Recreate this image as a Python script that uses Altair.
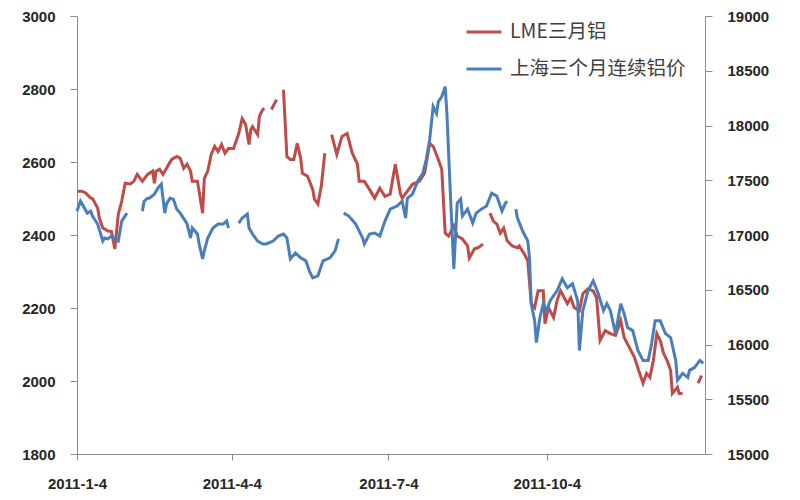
import altair as alt
import pandas as pd

# ---- data ----
lme_dates = ["2011-01-04","2011-01-07","2011-01-09","2011-01-12","2011-01-13","2011-01-16","2011-01-17","2011-01-19","2011-01-22","2011-01-24","2011-01-26","2011-01-28","2011-01-30","2011-02-01","2011-02-04","2011-02-06","2011-02-08","2011-02-11","2011-02-14","2011-02-17","2011-02-18","2011-02-19","2011-02-21","2011-02-23","2011-02-25","2011-02-28","2011-03-03","2011-03-05","2011-03-07","2011-03-09","2011-03-11","2011-03-12","2011-03-15","2011-03-18","2011-03-19","2011-03-21","2011-03-23","2011-03-25","2011-03-27","2011-03-29","2011-03-31","2011-04-02","2011-04-05","2011-04-08","2011-04-10","2011-04-12","2011-04-14","2011-04-15","2011-04-16","2011-04-19","2011-04-20","2011-04-22","2011-04-23","2011-04-25","2011-04-27","2011-04-30","2011-05-02","2011-05-04","2011-05-06","2011-05-08","2011-05-10","2011-05-12","2011-05-14","2011-05-15","2011-05-18","2011-05-21","2011-05-22","2011-05-24","2011-05-26","2011-05-28","2011-05-30","2011-06-01","2011-06-04","2011-06-07","2011-06-10","2011-06-13","2011-06-16","2011-06-17","2011-06-20","2011-06-23","2011-06-26","2011-06-29","2011-07-02","2011-07-05","2011-07-08","2011-07-11","2011-07-12","2011-07-15","2011-07-18","2011-07-22","2011-07-25","2011-07-28","2011-07-30","2011-08-02","2011-08-04","2011-08-06","2011-08-08","2011-08-11","2011-08-13","2011-08-16","2011-08-19","2011-08-20","2011-08-23","2011-08-25","2011-08-28","2011-08-30","2011-09-01","2011-09-03","2011-09-05","2011-09-07","2011-09-09","2011-09-11","2011-09-14","2011-09-17","2011-09-18","2011-09-21","2011-09-23","2011-09-25","2011-09-27","2011-09-29","2011-10-02","2011-10-03","2011-10-05","2011-10-08","2011-10-10","2011-10-12","2011-10-13","2011-10-16","2011-10-18","2011-10-20","2011-10-23","2011-10-25","2011-10-28","2011-10-31","2011-11-02","2011-11-04","2011-11-07","2011-11-10","2011-11-13","2011-11-16","2011-11-18","2011-11-21","2011-11-24","2011-11-27","2011-11-29","2011-12-01","2011-12-03","2011-12-05","2011-12-07","2011-12-09","2011-12-11","2011-12-13","2011-12-15","2011-12-16","2011-12-19","2011-12-20","2011-12-22","2011-12-26","2011-12-31","2012-01-02"]
lme_values = [2520,2520,2515,2501,2500,2474,2446,2419,2411,2410,2362,2457,2493,2542,2540,2547,2566,2547,2566,2575,2542,2575,2580,2566,2583,2607,2615,2610,2583,2594,2575,2547,2547,2460,2555,2575,2621,2643,2629,2648,2624,2637,2637,2678,2719,2703,2648,2689,2697,2675,2725,2744,2746,None,2744,2771,None,2798,2615,2607,2607,2651,2610,2569,2561,2525,2498,2485,2534,2624,None,2675,2621,2670,2678,2624,2594,2547,2547,2525,2501,2528,2506,2512,2594,2512,2501,2520,2539,2547,2569,2651,2643,2607,2580,2405,2397,2425,2397,2389,2370,2337,2362,2365,2375,None,2460,2438,2430,2405,2419,2384,2370,2365,2370,2348,2329,2212,2201,2247,2247,2157,2201,2174,2220,2247,2239,2212,2228,2201,2193,2239,2253,2247,2228,2111,2138,2130,2125,2166,2119,2092,2065,2021,1994,2021,2010,2056,2130,2111,2075,2056,2029,1966,1983,1966,1966,None,1994,2015]

sh_dates = ["2011-01-04","2011-01-06","2011-01-07","2011-01-10","2011-01-12","2011-01-13","2011-01-16","2011-01-19","2011-01-20","2011-01-22","2011-01-24","2011-01-26","2011-01-28","2011-01-30","2011-02-02","2011-02-05","2011-02-11","2011-02-12","2011-02-14","2011-02-15","2011-02-18","2011-02-20","2011-02-22","2011-02-24","2011-02-25","2011-02-27","2011-03-01","2011-03-03","2011-03-05","2011-03-08","2011-03-09","2011-03-11","2011-03-12","2011-03-15","2011-03-16","2011-03-18","2011-03-19","2011-03-21","2011-03-24","2011-03-27","2011-03-30","2011-04-01","2011-04-02","2011-04-04","2011-04-08","2011-04-10","2011-04-13","2011-04-14","2011-04-16","2011-04-19","2011-04-22","2011-04-24","2011-04-28","2011-05-01","2011-05-04","2011-05-06","2011-05-08","2011-05-11","2011-05-14","2011-05-17","2011-05-19","2011-05-21","2011-05-24","2011-05-27","2011-05-31","2011-06-03","2011-06-05","2011-06-06","2011-06-08","2011-06-11","2011-06-15","2011-06-19","2011-06-20","2011-06-23","2011-06-26","2011-06-29","2011-07-02","2011-07-05","2011-07-09","2011-07-12","2011-07-14","2011-07-15","2011-07-18","2011-07-21","2011-07-24","2011-07-26","2011-07-28","2011-07-30","2011-08-01","2011-08-02","2011-08-04","2011-08-06","2011-08-07","2011-08-09","2011-08-11","2011-08-13","2011-08-15","2011-08-16","2011-08-19","2011-08-22","2011-08-24","2011-08-27","2011-08-30","2011-09-02","2011-09-05","2011-09-08","2011-09-10","2011-09-11","2011-09-13","2011-09-16","2011-09-17","2011-09-20","2011-09-23","2011-09-24","2011-09-25","2011-09-27","2011-09-28","2011-09-30","2011-10-02","2011-10-04","2011-10-06","2011-10-10","2011-10-13","2011-10-16","2011-10-19","2011-10-22","2011-10-23","2011-10-25","2011-10-28","2011-10-31","2011-11-03","2011-11-06","2011-11-08","2011-11-10","2011-11-13","2011-11-16","2011-11-18","2011-11-20","2011-11-23","2011-11-26","2011-11-29","2011-12-02","2011-12-04","2011-12-06","2011-12-09","2011-12-12","2011-12-15","2011-12-18","2011-12-19","2011-12-22","2011-12-25","2011-12-26","2011-12-29","2012-01-01","2012-01-03"]
sh_values = [17218,17309,17282,17200,17218,17173,17100,16945,16973,16964,16991,16964,16945,17127,17200,None,17218,17309,17336,17336,17373,17427,17464,17200,17282,17336,17327,17236,17200,17127,17100,16973,17064,17009,16918,16782,16855,16973,17064,17100,17100,17127,17064,None,17109,17155,17191,17064,17009,16945,16918,16918,16945,16991,17009,16973,16782,16836,16791,16764,16673,16609,16627,16764,16791,16855,16964,None,17200,17173,17100,16973,16918,17009,17018,16991,17127,17236,17264,17309,17155,17336,17373,17491,17564,17691,17873,18173,18109,18218,18264,18355,18109,17382,16691,17291,17327,17173,17236,17109,17200,17236,17264,17382,17355,17218,17291,17309,None,17236,17155,17036,16945,16791,16373,16218,16018,16245,16373,16309,16400,16491,16600,16518,16555,16400,15945,16309,16491,16582,16464,16309,16373,16309,16100,16373,16282,16155,16127,15945,15855,15855,16009,16218,16218,16100,16064,15855,15673,15736,15700,15764,15791,15855,15827]

series_names = ["LME三月铝", "上海三个月连续铝价"]
series_colors = ["#BE4B48", "#4A7EBB"]
left_ticks = [1800, 2000, 2200, 2400, 2600, 2800, 3000]
right_ticks = [15000, 15500, 16000, 16500, 17000, 17500, 18000, 18500, 19000]
x_tick_dates = [(2011, 1, 4), (2011, 4, 4), (2011, 7, 4), (2011, 10, 4)]
x_domain = [(2011, 1, 4), (2012, 1, 4)]


def frame(dates, values, name):
    df = pd.DataFrame({"date": dates, "value": pd.array(values, dtype="Float64")})
    df["seg"] = df["value"].isna().cumsum()
    df = df.dropna().copy()
    df["value"] = df["value"].astype(float)
    df["series"] = name
    return df


lme_df = frame(lme_dates, lme_values, series_names[0])
sh_df = frame(sh_dates, sh_values, series_names[1])

label_font = "Liberation Sans"
axis_color = "#8C8C8C"
label_color = "#262626"


def dt(t):
    return alt.DateTime(year=t[0], month=t[1], date=t[2], utc=True)


x_enc = alt.X(
    "date:T",
    scale=alt.Scale(type="utc", domain=[dt(t) for t in x_domain]),
    axis=alt.Axis(
        values=[dt(t) for t in x_tick_dates],
        labelExpr="utcFormat(datum.value, '%Y-%-m-%-d')",
        title=None,
        grid=False,
        domainColor=axis_color,
        tickColor=axis_color,
        tickSize=6,
        labelPadding=16,
        labelFont=label_font,
        labelFontSize=15,
        labelFontWeight="bold",
        labelColor=label_color,
        labelFlush=False,
    ),
)

color_enc = alt.Color(
    "series:N",
    scale=alt.Scale(domain=series_names, range=series_colors),
    legend=alt.Legend(
        title=None,
        orient="none",
        legendX=388,
        legendY=-3,
        symbolType="stroke",
        symbolSize=1225,
        symbolStrokeWidth=3,
        labelFont="Noto Sans CJK SC",
        labelFontSize=19.5,
        labelColor="#404040",
        labelOffset=7,
        labelLimit=400,
        rowPadding=8,
        padding=0,
    ),
)

left = alt.Chart(lme_df).mark_line(strokeWidth=3).encode(
    x=x_enc,
    y=alt.Y(
        "value:Q",
        scale=alt.Scale(domain=[1800, 3000], nice=False, zero=False),
        axis=alt.Axis(
            orient="left",
            values=left_ticks,
            format="d",
            title=None,
            grid=False,
            domainColor=axis_color,
            tickColor=axis_color,
            tickSize=7,
            labelPadding=15,
            labelFont=label_font,
            labelFontSize=15,
            labelFontWeight="bold",
            labelColor=label_color,
        ),
    ),
    color=color_enc,
    detail="seg:N",
)

right = alt.Chart(sh_df).mark_line(strokeWidth=3).encode(
    x=x_enc,
    y=alt.Y(
        "value:Q",
        scale=alt.Scale(domain=[15000, 19000], nice=False, zero=False),
        axis=alt.Axis(
            orient="right",
            values=right_ticks,
            format="d",
            title=None,
            grid=False,
            domainColor=axis_color,
            tickColor=axis_color,
            tickSize=7,
            labelPadding=15,
            labelFont=label_font,
            labelFontSize=15,
            labelFontWeight="bold",
            labelColor=label_color,
        ),
    ),
    color=color_enc,
    detail="seg:N",
)

chart = (
    alt.layer(left, right)
    .resolve_scale(y="independent")
    .properties(
        width=628,
        height=438,
        autosize=alt.AutoSizeParams(type="none"),
        padding={"left": 69, "top": 8, "right": 87, "bottom": 38},
        background="white",
    )
    .configure_view(strokeWidth=0)
)

chart.save("out.html", embed_options={"renderer": "svg", "actions": False})
